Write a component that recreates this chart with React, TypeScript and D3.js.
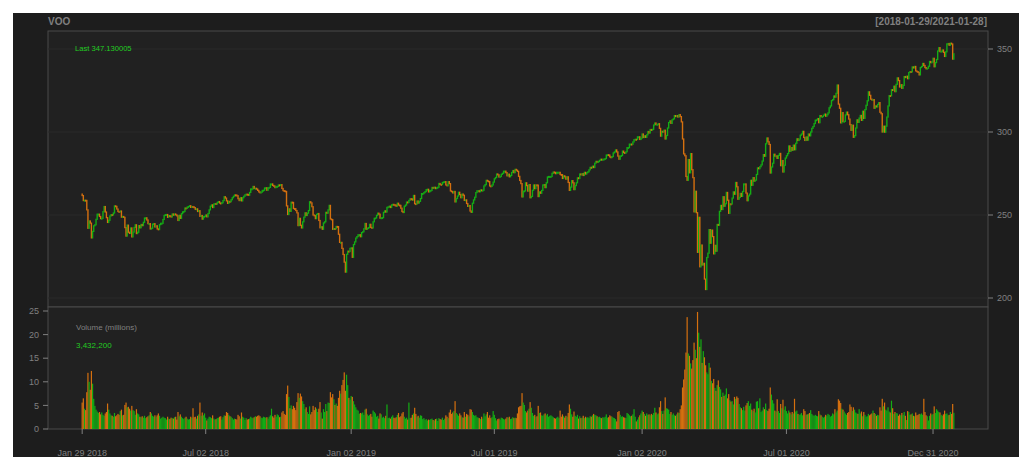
import * as d3 from "d3";

// VOO daily closes, one row per month, 2018-01-29 .. 2021-01-28
const close2018 = [
  261.7, 258.7, 258.9,
  258.8, 253.1, 242.0, 246.4, 245.1, 236.2, 240.1, 243.5, 244.1, 247.4, 250.5, 250.5, 249.1, 247.8, 248.0, 252.0, 255.1, 251.8, 248.4,
  245.5, 246.8, 249.4, 250.2, 250.0, 251.2, 255.5, 255.2, 253.6, 252.1, 251.9, 252.4, 248.7, 249.1, 248.6, 242.4, 237.3, 243.9, 239.6, 238.9, 242.2,
  236.8, 239.7, 242.5, 244.1, 238.8, 239.6, 243.6, 242.3, 244.3, 243.6, 245.6, 248.2, 248.3, 247.0, 244.8, 244.8, 241.6, 242.0, 244.5, 244.8, 242.8,
  243.5, 241.6, 241.2, 244.2, 245.0, 245.0, 247.3, 249.7, 250.2, 250.3, 248.6, 249.6, 249.4, 248.8, 250.6, 249.9, 250.6, 250.1, 249.5, 246.7, 249.8, 248.0,
  250.8, 251.9, 252.1, 254.2, 254.0, 254.8, 255.1, 255.6, 254.6, 255.1, 254.9, 254.4, 253.4, 253.7, 252.1, 252.6, 249.2, 249.7, 247.5, 249.1, 249.2,
  250.0, 248.9, 250.9, 253.1, 255.3, 256.1, 254.5, 256.6, 256.9, 256.6, 257.6, 258.1, 257.2, 256.9, 257.4, 258.7, 261.0, 260.2, 258.5, 257.0, 258.2,
  258.0, 259.2, 260.4, 261.3, 262.1, 262.0, 261.6, 259.8, 258.7, 260.4, 258.5, 260.4, 261.3, 262.1, 262.5, 262.4, 261.9, 263.6, 265.7, 265.7, 267.2, 266.0, 266.1,
  265.6, 264.8, 263.9, 263.4, 263.8, 264.8, 264.9, 266.3, 266.4, 264.9, 266.4, 266.6, 268.7, 268.7, 267.8, 267.4, 266.5, 267.2, 267.2,
  268.1, 268.0, 268.3, 266.0, 264.7, 264.5, 264.2, 255.5, 250.3, 253.7, 252.2, 257.7, 257.6, 253.9, 253.8, 252.7, 251.3, 243.6, 248.0, 243.8, 242.2, 245.9, 248.7,
  251.3, 249.7, 251.1, 252.7, 258.0, 257.3, 255.0, 250.0, 249.6, 247.8, 250.4, 250.9, 246.7, 242.3, 242.9, 241.4, 245.2, 245.9, 251.6, 251.1, 253.1,
  255.8, 247.6, 247.2, 241.4, 241.8, 241.7, 243.1, 243.0, 238.4, 233.5, 233.5, 229.9, 226.2, 221.6, 215.6, 226.3, 228.2, 228.0, 229.9,
];
const close2019 = [
  230.2, 224.5, 232.2, 233.8, 236.1, 237.0, 238.1, 238.1, 236.9, 239.4, 239.9, 241.7, 244.9, 241.4, 242.0, 242.4, 244.4, 242.5, 242.2, 245.9, 248.0,
  248.2, 249.8, 251.1, 250.5, 248.1, 248.3, 248.4, 251.6, 252.5, 251.8, 254.6, 254.9, 255.3, 254.5, 256.1, 256.4, 256.1, 256.0, 255.3,
  257.1, 256.0, 255.8, 254.1, 252.1, 251.5, 255.3, 256.0, 257.8, 257.5, 258.8, 259.8, 259.7, 259.0, 261.8, 256.8, 256.6, 258.4, 257.2, 258.2, 259.9,
  262.9, 262.9, 263.5, 264.1, 265.3, 265.5, 263.9, 264.8, 264.8, 266.6, 266.5, 266.7, 265.9, 266.4, 266.7, 269.0, 268.4, 268.3, 269.6, 269.9, 270.1,
  268.1, 267.6, 270.1, 268.9, 264.5, 264.1, 263.3, 264.2, 257.9, 259.9, 261.4, 263.7, 262.3, 260.4, 262.6, 261.9, 258.8, 259.1, 256.9, 255.2, 255.7, 252.4,
  251.6, 257.1, 259.1, 260.7, 263.5, 264.6, 264.6, 264.0, 265.1, 264.7, 264.9, 267.5, 268.3, 270.9, 270.5, 270.1, 267.5, 267.2, 268.1, 269.8,
  271.8, 272.6, 274.7, 274.2, 272.9, 273.2, 274.5, 275.1, 276.4, 276.4, 275.5, 273.6, 274.6, 273.0, 273.8, 275.6, 276.8, 275.5, 277.5, 277.0, 276.3, 273.3,
  270.8, 268.9, 260.9, 264.3, 264.5, 269.4, 267.7, 264.4, 268.3, 260.4, 261.2, 264.9, 268.1, 265.9, 268.1, 268.0, 261.1, 263.9, 263.1, 264.8, 268.1, 268.3,
  266.5, 269.4, 272.9, 273.2, 273.2, 273.2, 275.1, 275.9, 275.7, 274.9, 275.7, 275.7, 275.7, 274.4, 274.3, 272.0, 273.6, 273.0, 271.6, 273.0,
  269.6, 264.8, 266.8, 270.7, 269.4, 265.3, 267.7, 269.4, 272.4, 272.0, 274.7, 274.2, 274.9, 273.8, 275.7, 274.7, 275.5, 276.0, 277.2, 278.7, 278.4, 279.4, 278.6,
  281.2, 282.3, 282.0, 282.2, 282.9, 283.6, 283.1, 283.5, 283.7, 284.0, 286.1, 286.3, 286.1, 285.0, 284.6, 285.2, 287.4, 288.0, 289.2, 288.0,
  285.5, 283.6, 285.5, 285.8, 288.5, 287.6, 287.3, 288.1, 290.6, 290.6, 292.7, 292.7, 292.6, 294.0, 295.4, 295.6, 295.5, 297.1, 297.1, 295.5, 296.3,
];
const close2020 = [
  298.8, 296.7, 297.7, 296.8, 298.3, 300.3, 299.4, 301.5, 301.1, 301.6, 304.2, 305.4, 304.5, 304.5, 305.0, 302.2, 297.5, 300.4, 300.1, 301.1, 295.8,
  297.9, 302.4, 305.7, 306.7, 305.2, 307.4, 307.9, 309.9, 309.3, 309.9, 309.0, 310.5, 309.3, 306.1, 295.8, 286.8, 285.7, 273.2, 270.9,
  283.4, 275.4, 287.0, 277.3, 272.5, 251.9, 264.3, 251.4, 227.5, 248.6, 218.8, 231.9, 219.9, 220.9, 211.4, 205.1, 224.4, 227.0, 241.2, 233.0, 240.9, 237.0,
  226.6, 231.7, 228.2, 244.3, 243.8, 252.2, 255.8, 253.3, 261.0, 255.3, 256.8, 263.6, 258.9, 251.0, 256.7, 256.6, 260.2, 263.9, 262.5, 269.6, 267.0,
  259.5, 260.6, 263.0, 261.2, 264.2, 268.7, 268.7, 263.2, 258.6, 261.5, 262.6, 270.9, 267.9, 272.5, 270.4, 271.0, 274.4, 278.4, 277.9, 279.1,
  280.2, 282.5, 286.4, 285.4, 292.9, 296.4, 294.1, 292.5, 275.3, 278.9, 281.2, 286.6, 285.5, 285.6, 284.1, 285.9, 287.1, 279.7, 282.8, 275.9, 280.0, 284.3,
  285.7, 287.0, 291.6, 288.4, 290.6, 289.0, 292.1, 289.3, 293.2, 295.9, 294.9, 295.7, 298.1, 298.8, 300.4, 296.7, 294.9, 297.0, 295.1, 298.8, 297.7, 300.0,
  302.2, 303.3, 305.1, 307.1, 307.3, 308.1, 305.6, 309.9, 309.3, 309.3, 310.1, 310.8, 309.5, 310.4, 311.5, 314.6, 315.7, 318.9, 319.5, 321.7, 321.0,
  323.3, 328.3, 316.8, 314.3, 305.5, 311.7, 306.3, 306.4, 310.3, 312.0, 310.4, 307.8, 304.4, 301.0, 304.1, 296.8, 297.8, 302.4, 307.3, 305.8, 308.4,
  310.0, 307.0, 312.5, 308.2, 313.5, 316.1, 318.8, 324.2, 322.1, 319.8, 319.5, 319.5, 314.3, 315.7, 315.1, 316.6, 317.7, 311.9, 311.0, 300.0, 303.5, 299.9,
  303.5, 309.0, 315.7, 321.9, 321.8, 325.5, 325.1, 327.6, 324.3, 328.7, 332.6, 331.0, 327.1, 328.5, 326.3, 328.1, 333.4, 332.8, 333.6, 332.1,
  335.8, 336.4, 336.2, 339.2, 338.6, 339.5, 336.8, 336.4, 335.9, 334.4, 338.8, 339.5, 341.3, 340.1, 338.8, 338.1, 338.4, 339.6, 342.5, 341.8, 342.2, 344.4,
];
const close2021 = [
  339.3, 341.8, 343.7, 348.8, 350.8, 348.4, 348.6, 349.4, 348.0, 345.5, 348.3, 353.1, 353.3, 352.2, 353.5, 353.0, 343.9, 347.130005,
];
const firstOpen = 262.6;

// daily volume, millions of shares
const vol2018 = [
  5.6, 6.5, 4.3,
  4.0, 7.8, 11.9, 10.0, 8.3, 12.3, 9.6, 6.4, 4.9, 4.1, 3.7, 3.4, 3.6, 3.1, 3.5, 3.0, 2.8, 3.3, 3.6,
  5.4, 4.1, 3.3, 2.9, 2.8, 2.6, 3.4, 2.7, 2.9, 3.2, 3.0, 3.8, 4.1, 2.9, 3.0, 5.1, 5.6, 4.6, 4.7, 4.3, 3.9,
  4.9, 4.0, 3.8, 3.0, 4.2, 3.3, 3.1, 2.6, 2.5, 2.7, 2.4, 2.8, 2.3, 2.5, 2.7, 2.9, 3.6, 3.3, 2.8, 2.6, 2.9,
  2.6, 2.9, 3.3, 2.8, 2.2, 2.4, 2.6, 2.4, 2.3, 2.0, 2.6, 2.2, 2.1, 2.4, 2.3, 2.2, 2.5, 2.6, 2.0, 3.6, 2.7, 3.1,
  2.6, 2.3, 2.1, 2.4, 2.6, 2.2, 2.0, 2.1, 2.6, 2.4, 4.4, 2.5, 2.6, 2.2, 2.8, 3.1, 5.6, 2.8, 3.5, 2.9, 3.3,
  2.4, 1.8, 2.2, 2.6, 2.5, 2.3, 2.9, 2.2, 2.0, 2.1, 2.3, 2.4, 2.6, 2.7, 2.0, 2.5, 2.9, 2.8, 3.6, 3.4, 3.0,
  2.7, 2.6, 2.3, 2.0, 2.2, 2.1, 2.0, 3.0, 2.7, 2.2, 3.5, 2.6, 2.4, 1.9, 2.3, 2.0, 2.1, 2.2, 2.6, 2.4, 2.3, 2.5, 2.7,
  2.6, 2.8, 2.9, 2.7, 2.4, 2.3, 2.6, 2.5, 2.4, 2.5, 2.2, 2.6, 2.9, 4.3, 2.7, 2.4, 3.0, 2.6, 3.1,
  2.9, 2.5, 2.6, 3.5, 3.8, 3.2, 3.0, 7.4, 9.2, 6.8, 4.4, 5.0, 4.2, 4.9, 4.5, 4.0, 5.7, 7.6, 6.6, 7.5, 6.9, 5.9, 5.3,
  4.2, 4.6, 3.6, 3.2, 4.8, 3.1, 3.6, 4.9, 4.0, 4.6, 4.3, 3.6, 4.3, 5.7, 3.5, 2.2, 4.2, 3.6, 5.3, 3.8, 5.6,
  5.5, 7.8, 6.7, 7.4, 6.3, 5.1, 5.4, 4.9, 6.6, 8.1, 7.5, 9.3, 10.4, 12.0, 8.1, 11.5, 9.3, 6.6, 6.2,
];
const vol2019 = [
  7.0, 6.8, 5.9, 5.2, 4.6, 4.1, 3.9, 3.2, 3.4, 3.3, 3.5, 3.0, 4.1, 4.3, 3.1, 2.8, 3.0, 3.2, 2.6, 3.9, 3.6,
  3.3, 2.6, 2.8, 2.2, 3.3, 3.1, 2.4, 2.6, 2.3, 2.8, 5.2, 2.3, 2.4, 2.2, 2.6, 2.9, 2.4, 2.3, 2.5,
  3.0, 3.4, 2.5, 2.7, 3.3, 3.6, 2.6, 2.2, 2.4, 2.0, 5.6, 2.3, 2.4, 3.0, 3.3, 4.5, 3.2, 2.6, 2.8, 2.4, 2.9,
  2.8, 2.1, 2.3, 1.9, 2.1, 1.8, 2.0, 1.9, 2.1, 2.2, 1.9, 1.8, 2.1, 2.2, 1.7, 2.3, 2.1, 2.0, 2.4, 1.9, 2.2,
  2.9, 2.6, 2.3, 3.5, 4.1, 3.2, 3.5, 3.8, 5.9, 3.4, 3.1, 2.8, 3.3, 2.9, 2.5, 2.4, 3.6, 2.6, 3.2, 3.0, 2.7, 4.2,
  4.1, 3.6, 3.0, 2.8, 2.9, 2.5, 2.4, 2.3, 2.1, 2.6, 2.2, 3.3, 2.7, 3.1, 3.6, 2.4, 2.9, 2.3, 2.5, 3.8,
  3.0, 2.3, 1.8, 2.1, 2.2, 2.0, 2.4, 2.3, 2.1, 2.0, 2.2, 2.5, 2.4, 2.6, 2.1, 2.2, 2.5, 2.3, 2.4, 2.3, 3.3, 4.6,
  4.8, 4.9, 7.6, 5.6, 5.1, 3.8, 3.5, 3.9, 4.3, 5.7, 4.5, 3.4, 2.8, 3.0, 2.6, 2.7, 4.9, 3.4, 3.5, 2.9, 2.8, 3.1,
  3.3, 2.9, 3.2, 2.6, 2.8, 2.9, 2.7, 2.5, 2.3, 2.2, 2.4, 2.6, 2.3, 3.9, 2.6, 3.1, 2.7, 2.4, 2.8, 2.6,
  3.4, 5.2, 4.3, 3.1, 2.6, 3.7, 2.8, 2.6, 3.0, 2.2, 2.7, 2.3, 2.4, 2.8, 2.3, 2.6, 2.4, 2.5, 2.3, 2.7, 2.6, 2.9, 3.2,
  3.0, 2.9, 2.7, 2.5, 2.6, 2.4, 2.3, 2.5, 2.4, 2.6, 3.1, 2.4, 2.5, 2.9, 2.7, 2.6, 2.4, 2.3, 2.1, 1.6,
  3.6, 3.8, 3.0, 2.6, 2.7, 2.5, 2.4, 2.3, 3.4, 3.2, 2.9, 2.7, 2.8, 3.1, 4.2, 2.6, 1.6, 2.0, 2.5, 2.9, 3.3,
];
const vol2020 = [
  3.9, 3.6, 3.2, 2.8, 3.3, 3.0, 3.1, 2.9, 3.2, 3.0, 3.4, 4.5, 3.5, 3.1, 3.3, 4.6, 5.9, 3.8, 3.2, 3.9, 6.7,
  4.4, 4.3, 4.1, 3.2, 3.6, 3.0, 3.3, 2.9, 2.8, 3.1, 3.5, 3.4, 4.2, 5.0, 8.8, 10.5, 12.6, 16.2, 23.7,
  16.0, 15.5, 13.9, 12.8, 14.6, 18.3, 16.8, 15.0, 24.8, 20.4, 17.4, 19.0, 14.0, 16.5, 15.2, 13.5, 12.0, 11.6, 14.0, 13.0, 10.2, 9.7,
  10.6, 8.7, 8.1, 9.3, 10.3, 8.9, 8.4, 6.8, 7.7, 7.0, 7.3, 8.6, 6.5, 7.4, 6.1, 5.8, 5.9, 5.2, 6.8, 6.4, 6.9,
  6.6, 5.3, 4.6, 4.4, 4.0, 4.7, 3.9, 5.0, 5.5, 5.9, 4.9, 5.4, 4.1, 3.8, 4.3, 3.5, 5.8, 5.9, 4.4, 6.5,
  3.6, 3.9, 4.6, 4.2, 5.4, 4.0, 3.8, 4.3, 8.8, 7.3, 6.1, 5.4, 3.9, 3.7, 6.3, 3.8, 3.4, 5.3, 4.4, 6.2, 4.1, 4.8,
  3.8, 3.3, 3.9, 3.5, 3.1, 3.6, 3.3, 6.4, 3.7, 3.9, 3.2, 3.0, 3.1, 3.4, 2.9, 4.2, 3.8, 3.0, 3.1, 3.2, 3.4, 4.0,
  3.2, 2.9, 2.8, 3.0, 2.8, 2.7, 3.8, 3.1, 2.9, 2.6, 2.4, 2.6, 3.0, 2.8, 3.2, 3.0, 2.6, 2.8, 3.3, 3.1, 4.2,
  3.5, 3.9, 6.3, 6.0, 5.5, 4.3, 4.1, 3.7, 3.3, 3.0, 3.4, 3.6, 5.2, 4.7, 3.8, 4.6, 4.1, 3.5, 3.3, 3.2, 4.2,
  3.3, 3.7, 2.7, 3.6, 3.0, 2.6, 2.7, 3.2, 2.9, 3.1, 3.3, 3.9, 3.4, 3.2, 2.8, 3.0, 2.9, 4.6, 3.9, 6.4, 4.8, 5.6,
  4.1, 3.9, 4.6, 3.7, 3.5, 6.0, 4.4, 3.2, 3.6, 3.4, 3.3, 2.8, 3.1, 2.9, 3.4, 3.0, 3.6, 2.8, 1.9, 3.8,
  3.6, 3.0, 3.1, 3.3, 2.8, 2.7, 3.5, 2.9, 3.0, 3.2, 3.1, 3.3, 3.0, 6.4, 3.6, 2.9, 2.7, 1.8, 2.8, 3.3, 3.0, 3.2,
];
const vol2021 = [
  4.8, 3.4, 4.2, 3.9, 3.6, 3.5, 3.0, 2.8, 3.1, 3.9, 3.2, 3.3, 2.9, 3.0, 3.6, 3.2, 5.3, 3.4322,
];

const symbol = "VOO";
const rangeLabel = "[2018-01-29/2021-01-28]";
const lastLabel = "Last 347.130005";
const lastVolumeLabel = "3,432,200";
const dateTickLabels = ["Jan 29 2018", "Jul 02 2018", "Jan 02 2019", "Jul 01 2019", "Jan 02 2020", "Jul 01 2020", "Dec 31 2020"];
const dateTickBars = [0, 107, 233, 357, 485, 610, 737];
const priceTicks = [200, 250, 300, 350];
const volumeTicks = [0, 5, 10, 15, 20, 25];

const UP = "#14ad14";
const DOWN = "#d5700f";
const FG = "#808080";
const BORDER = "#4a4a4a";
const GREEN_TEXT = "#22cc22";

export default function App() {
  const closes = [...close2018, ...close2019, ...close2020, ...close2021];
  const volumes = [...vol2018, ...vol2019, ...vol2020, ...vol2021];
  const n = closes.length;

  const left = 48;
  const right = 988;
  const pad = 29.6;

  const x = d3.scaleLinear().domain([-pad, n - 1 + pad]).range([left, right]);
  const yPrice = d3.scaleLinear().domain([200, 350]).range([298, 49]);
  const yVol = d3.scaleLinear().domain([0, 25]).range([429, 311]);

  const bars = closes.map((c, i) => {
    const o = i === 0 ? firstOpen : closes[i - 1];
    return { i, o, c, v: volumes[i] ?? 0, up: c >= o };
  });

  const font = "'Liberation Sans', Arial, Helvetica, sans-serif";

  return (
    <svg
      width={1019}
      height={457}
      style={{ position: "fixed", left: 0, top: 0 }}
      fontFamily={font}
    >
      <rect width={1019} height={457} fill="#ffffff" />
      <rect x={13} y={13} width={1006} height={444} fill="#1d1d1d" />

      {/* panels */}
      <rect x={left} y={31} width={right - left} height={276} fill="#212121" stroke={BORDER} />
      <rect x={left} y={307} width={right - left} height={122} fill="#212121" stroke={BORDER} />

      {/* price grid */}
      {priceTicks.map((t) => (
        <line key={"g" + t} x1={left} x2={right} y1={yPrice(t)} y2={yPrice(t)} stroke="#2b2b2b" />
      ))}

      {/* candles */}
      {bars.map((b) => {
        const top = yPrice(Math.max(b.o, b.c)) - 0.6;
        const h = Math.max(2, Math.abs(yPrice(b.o) - yPrice(b.c)) + 1.2);
        return (
          <rect key={"c" + b.i} x={x(b.i) - 0.7} y={top} width={1.4} height={h} fill={b.up ? UP : DOWN} />
        );
      })}

      {/* volume */}
      {bars.map((b) => (
        <rect
          key={"v" + b.i}
          x={x(b.i) - 0.6}
          y={yVol(b.v)}
          width={1.2}
          height={yVol(0) - yVol(b.v)}
          fill={b.up ? UP : DOWN}
        />
      ))}

      {/* right price axis */}
      {priceTicks.map((t) => (
        <g key={"p" + t}>
          <line x1={right} x2={right + 5} y1={yPrice(t)} y2={yPrice(t)} stroke={FG} />
          <text x={right + 9} y={yPrice(t)} dy="0.35em" fontSize={9} fill={FG}>
            {t}
          </text>
        </g>
      ))}

      {/* left volume axis */}
      {volumeTicks.map((t) => (
        <g key={"vt" + t}>
          <line x1={left - 5} x2={left} y1={yVol(t)} y2={yVol(t)} stroke={FG} />
          <text x={left - 9} y={yVol(t)} dy="0.35em" fontSize={9} fill={FG} textAnchor="end">
            {t}
          </text>
        </g>
      ))}

      {/* date axis */}
      {dateTickBars.map((bi, k) => (
        <g key={"d" + bi}>
          <line x1={x(bi)} x2={x(bi)} y1={429} y2={434} stroke={FG} />
          <text x={x(bi)} y={456} fontSize={9} fill={FG} textAnchor="middle">
            {dateTickLabels[k]}
          </text>
        </g>
      ))}

      {/* labels */}
      <text x={48} y={25} fontSize={10} fontWeight="bold" fill={FG}>
        {symbol}
      </text>
      <text x={987} y={25} fontSize={10} fontWeight="bold" fill={FG} textAnchor="end">
        {rangeLabel}
      </text>
      <text x={75} y={51} fontSize={7.6} fill={GREEN_TEXT}>
        {lastLabel}
      </text>
      <text x={76} y={330} fontSize={8} fill={FG}>
        Volume (millions)
      </text>
      <text x={76} y={348} fontSize={8} fill={GREEN_TEXT}>
        {lastVolumeLabel}
      </text>
    </svg>
  );
}
